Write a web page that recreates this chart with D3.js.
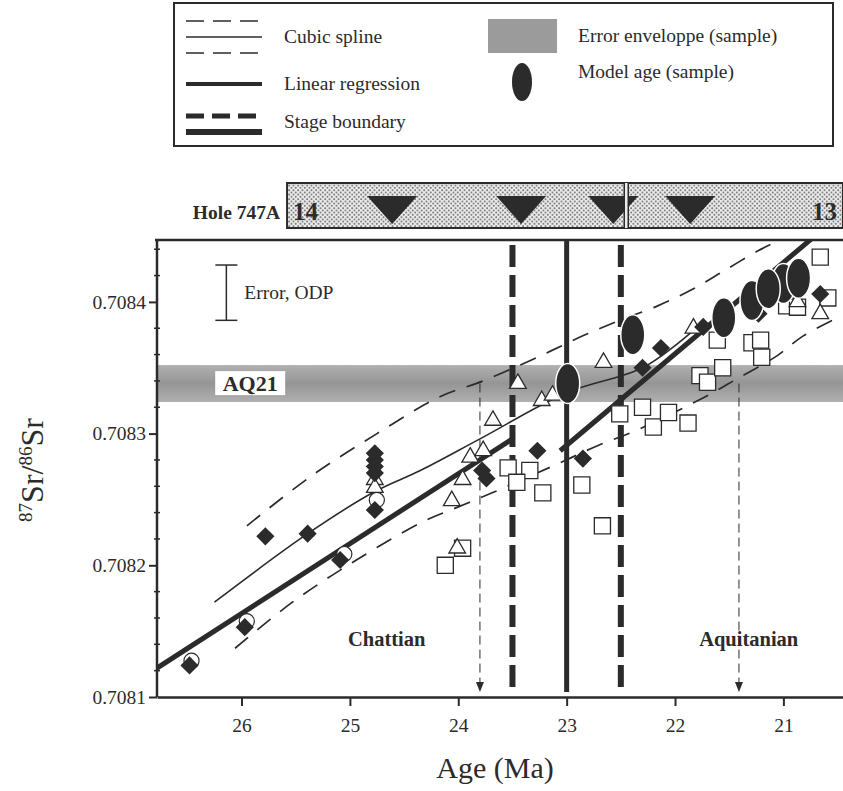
<!DOCTYPE html>
<html><head><meta charset="utf-8">
<script src="https://cdn.jsdelivr.net/npm/d3@7"></script>
<style>body{margin:0;background:#fff}text{font-family:"Liberation Serif","DejaVu Serif",serif;fill:#2b2b2b}</style>
</head><body>
<svg id="chart" width="843" height="791"></svg>
<script>
// Axis ticks
const xTicks = [26, 25, 24, 23, 22, 21];
const yTicks = [0.7081, 0.7082, 0.7083, 0.7084];

// Cubic spline through the data and its error envelope (age Ma, 87Sr/86Sr)
const splineAge = [26.25, 25.39, 24.77, 24.35, 23.80, 23.0, 22.30, 21.83, 21.72];
const splineSr  = [0.708172, 0.708224, 0.708256, 0.708272, 0.708296, 0.708331, 0.708350, 0.708378, 0.708385];
const upperAge  = [25.95, 25.37, 24.75, 24.17, 23.77, 23.43, 23.14, 22.83, 22.51, 22.16, 21.83, 21.54, 21.23, 21.03];
const upperSr   = [0.708230, 0.708267, 0.708300, 0.708328, 0.708340, 0.708352, 0.708363, 0.708375, 0.708386, 0.708397, 0.708410, 0.708424, 0.708439, 0.708447];
const lowerAge  = [26.06, 25.53, 24.94, 24.33, 24.01, 23.66, 23.03, 22.71, 22.37, 21.72, 21.42, 21.06, 20.82, 20.50];
const lowerSr   = [0.708137, 0.708172, 0.708204, 0.708233, 0.708244, 0.708256, 0.708279, 0.708291, 0.708302, 0.708328, 0.708342, 0.708359, 0.708374, 0.708388];

// Linear regressions (Chattian and Aquitanian segments)
const reg1Age = [26.78, 23.5];
const reg1Sr  = [0.708122, 0.708296];
const reg2Age = [23.06, 20.71];
const reg2Sr  = [0.708287, 0.708450];

// Stage boundary (solid) and its uncertainty (dashed)
const boundaryAge = 23.0;
const boundaryRangeAge = [23.5, 22.5];

// AQ21 sample: 87Sr/86Sr band and derived age range
const aq21Sr = [0.708324, 0.708352];
const arrowAge = [23.8, 21.41];

// Measurements
const diamondAge = [26.48, 25.97, 25.78, 25.39, 25.09, 24.77, 24.77, 24.77, 24.77, 24.77, 23.78, 23.74, 23.27, 22.85, 22.30, 22.13, 21.74, 21.23, 20.66];
const diamondSr  = [0.708124, 0.708153, 0.708222, 0.708224, 0.708204, 0.708285, 0.708280, 0.708275, 0.708270, 0.708242, 0.708272, 0.708266, 0.708287, 0.708281, 0.708350, 0.708365, 0.708381, 0.708391, 0.708406];
const triangleAge = [24.77, 24.77, 24.06, 23.96, 23.89, 23.77, 24.01, 23.68, 23.45, 23.23, 23.13, 22.66, 21.83, 20.87, 20.66];
const triangleSr  = [0.708265, 0.708259, 0.708249, 0.708265, 0.708282, 0.708287, 0.708213, 0.708310, 0.708338, 0.708325, 0.708329, 0.708354, 0.708380, 0.708400, 0.708391];
const squareAge = [24.12, 23.96, 23.54, 23.34, 23.46, 23.22, 22.86, 22.67, 22.51, 22.30, 22.20, 22.06, 21.88, 21.77, 21.70, 21.56, 21.61, 21.29, 21.21, 21.20, 20.97, 20.87, 20.59, 20.66];
const squareSr  = [0.708200, 0.708213, 0.708274, 0.708272, 0.708263, 0.708255, 0.708261, 0.708230, 0.708315, 0.708320, 0.708305, 0.708316, 0.708308, 0.708344, 0.708339, 0.708350, 0.708371, 0.708369, 0.708371, 0.708358, 0.708397, 0.708396, 0.708403, 0.708434];
const circleAge = [26.48, 25.97, 25.07, 24.77];
const circleSr  = [0.708126, 0.708156, 0.708207, 0.708248];

// Model ages of samples
const modelAge = [22.99, 22.39, 21.55, 21.29, 21.0, 21.14, 20.86];
const modelSr  = [0.708338, 0.708375, 0.708388, 0.708401, 0.708414, 0.708410, 0.708418];

// Analytical error of ODP data
const errAge = 26.14;
const errSr = [0.708386, 0.708428];

// Hole 747A core record
const holeRangeAge = [25.58, 20.45];
const holeDividerAge = 22.45;
const holeLabels = ["14", "13"];
const holeSampleAge = [24.61, 23.42, 22.57, 21.86];

const ink = "#2b2b2b";
const svg = d3.select("#chart");
const defs = svg.append("defs");

const m = {left: 157, right: 843, top: 240, bottom: 697};
const x = d3.scaleLinear().domain([26.78, 20.45]).range([m.left, m.right]);
const y = d3.scaleLinear().domain([0.7081, 0.708447]).range([m.bottom, m.top]);

// grainy grey used for the error envelope
const grain = defs.append("filter").attr("id", "grain").attr("x", 0).attr("y", 0).attr("width", 1).attr("height", 1);
grain.append("feTurbulence").attr("type", "fractalNoise").attr("baseFrequency", 0.9).attr("numOctaves", 2).attr("seed", 3).attr("result", "n");
grain.append("feColorMatrix").attr("in", "n").attr("type", "matrix")
  .attr("values", "0 0 0 0 0  0 0 0 0 0  0 0 0 0 0  0 0 0 -0.9 0.55").attr("result", "a");
grain.append("feComposite").attr("in", "SourceGraphic").attr("in2", "a").attr("operator", "over");

const bandGrad = defs.append("linearGradient").attr("id", "bandGrad").attr("x1", 0).attr("y1", 0).attr("x2", 0).attr("y2", 1);
bandGrad.append("stop").attr("offset", "0%").attr("stop-color", "#b0b0b0");
bandGrad.append("stop").attr("offset", "50%").attr("stop-color", "#959595");
bandGrad.append("stop").attr("offset", "100%").attr("stop-color", "#b0b0b0");

// stipple for the core bar
const stip = defs.append("pattern").attr("id", "stipple").attr("patternUnits", "userSpaceOnUse").attr("width", 4.5).attr("height", 4.5);
stip.append("rect").attr("width", 4.5).attr("height", 4.5).attr("fill", "#ececec");
stip.append("circle").attr("cx", 1.1).attr("cy", 1.1).attr("r", 0.85).attr("fill", "#555");
stip.append("circle").attr("cx", 3.35).attr("cy", 3.35).attr("r", 0.85).attr("fill", "#555");

defs.append("clipPath").attr("id", "plotClip").append("rect")
  .attr("x", m.left).attr("y", m.top).attr("width", m.right - m.left).attr("height", m.bottom - m.top);

// ---------- Legend ----------
const lg = svg.append("g");
lg.append("rect").attr("x", 174).attr("y", 3).attr("width", 659).attr("height", 143)
  .attr("fill", "none").attr("stroke", ink).attr("stroke-width", 2);
const lgLine = (y0, w, dash) => lg.append("line").attr("x1", 186).attr("x2", 262).attr("y1", y0).attr("y2", y0)
  .attr("stroke", ink).attr("stroke-width", w).attr("stroke-dasharray", dash || null);
lgLine(21, 1.5, "18,9");
lgLine(37, 1.5);
lgLine(53, 1.5, "18,9");
lgLine(84, 4);
lgLine(116, 5, "18,8");
lgLine(132, 6);
const lgText = (tx, ty, s) => lg.append("text").attr("x", tx).attr("y", ty).attr("font-size", 19.5).text(s);
lgText(284, 43, "Cubic spline");
lgText(284, 90, "Linear regression");
lgText(284, 128, "Stage boundary");
lg.append("rect").attr("x", 488).attr("y", 19).attr("width", 69).attr("height", 34).attr("fill", "#9b9b9b").attr("filter", "url(#grain)");
lgText(578, 42, "Error enveloppe (sample)");
lg.append("ellipse").attr("cx", 522).attr("cy", 82).attr("rx", 10).attr("ry", 19).attr("fill", ink);
lgText(578, 78, "Model age (sample)");

// ---------- Hole 747A bar ----------
const hb = svg.append("g");
const hy0 = 183, hy1 = 228;
hb.append("text").attr("x", 280).attr("y", 219).attr("text-anchor", "end").attr("font-size", 19.5).attr("font-weight", "bold").text("Hole 747A");
hb.append("rect").attr("x", x(holeRangeAge[0])).attr("y", hy0).attr("width", x(holeRangeAge[1]) - x(holeRangeAge[0])).attr("height", hy1 - hy0)
  .attr("fill", "url(#stipple)").attr("stroke", ink).attr("stroke-width", 2);
hb.selectAll("path.tri").data(holeSampleAge).join("path").attr("class", "tri")
  .attr("d", d => `M${x(d) - 25},${hy0 + 13}L${x(d) + 25},${hy0 + 13}L${x(d)},${hy1 - 4}Z`).attr("fill", ink);
const xd = x(holeDividerAge);
hb.append("rect").attr("x", xd - 2).attr("y", hy0).attr("width", 4).attr("height", hy1 - hy0).attr("fill", "#ececec");
hb.append("line").attr("x1", xd - 2).attr("x2", xd - 2).attr("y1", hy0).attr("y2", hy1).attr("stroke", ink).attr("stroke-width", 1.5);
hb.append("line").attr("x1", xd + 2).attr("x2", xd + 2).attr("y1", hy0).attr("y2", hy1).attr("stroke", ink).attr("stroke-width", 1.5);
hb.append("text").attr("x", x(holeRangeAge[0]) + 6).attr("y", 220).attr("font-size", 25).attr("font-weight", "bold").text(holeLabels[0]);
hb.append("text").attr("x", x(holeRangeAge[1]) - 6).attr("y", 220).attr("text-anchor", "end").attr("font-size", 25).attr("font-weight", "bold").text(holeLabels[1]);

// ---------- Plot ----------
const p = svg.append("g").attr("clip-path", "url(#plotClip)");

// AQ21 band
p.append("rect").attr("x", m.left).attr("y", y(aq21Sr[1])).attr("width", m.right - m.left).attr("height", y(aq21Sr[0]) - y(aq21Sr[1]))
  .attr("fill", "url(#bandGrad)").attr("filter", "url(#grain)");
const aqX = x(25.92);
p.append("rect").attr("x", aqX - 35).attr("y", y(aq21Sr[1]) + 6).attr("width", 70).attr("height", 24).attr("fill", "#fff");
p.append("text").attr("x", aqX).attr("y", y(aq21Sr[1]) + 26).attr("text-anchor", "middle").attr("font-size", 22).attr("font-weight", "bold").text("AQ21");

// Error bar
const ex = x(errAge);
p.append("line").attr("x1", ex).attr("x2", ex).attr("y1", y(errSr[0])).attr("y2", y(errSr[1])).attr("stroke", ink).attr("stroke-width", 1.5);
errSr.forEach(v => p.append("line").attr("x1", ex - 11).attr("x2", ex + 11).attr("y1", y(v)).attr("y2", y(v)).attr("stroke", ink).attr("stroke-width", 1.5));
p.append("text").attr("x", ex + 18).attr("y", y((errSr[0] + errSr[1]) / 2) + 6).attr("font-size", 19.5).text("Error, ODP");

// Stage names
p.append("text").attr("x", x(24.66)).attr("y", 646).attr("text-anchor", "middle").attr("font-size", 20.5).attr("font-weight", "bold").text("Chattian");
p.append("text").attr("x", x(21.32)).attr("y", 646).attr("text-anchor", "middle").attr("font-size", 20.5).attr("font-weight", "bold").text("Aquitanian");

// Age-range arrows
arrowAge.forEach(a => {
  const ax = x(a);
  p.append("line").attr("x1", ax).attr("x2", ax).attr("y1", y((aq21Sr[0] + aq21Sr[1]) / 2)).attr("y2", 684)
    .attr("stroke", ink).attr("stroke-width", 1).attr("stroke-dasharray", "9,5");
  p.append("path").attr("d", `M${ax - 4},${682}L${ax + 4},${682}L${ax},${692}Z`).attr("fill", ink);
});

// Stage boundaries
boundaryRangeAge.forEach(a => p.append("line").attr("x1", x(a)).attr("x2", x(a)).attr("y1", 245).attr("y2", 690)
  .attr("stroke", ink).attr("stroke-width", 6).attr("stroke-dasharray", "22,8"));
p.append("line").attr("x1", x(boundaryAge)).attr("x2", x(boundaryAge)).attr("y1", m.top).attr("y2", 692)
  .attr("stroke", ink).attr("stroke-width", 5);

// Spline and envelope
const line = d3.line().x(d => x(d[0])).y(d => y(d[1])).curve(d3.curveCatmullRom.alpha(0.5));
const zip = (a, b) => a.map((v, i) => [v, b[i]]);
p.append("path").attr("d", line(zip(upperAge, upperSr))).attr("fill", "none").attr("stroke", ink).attr("stroke-width", 1.7).attr("stroke-dasharray", "17,12");
p.append("path").attr("d", line(zip(lowerAge, lowerSr))).attr("fill", "none").attr("stroke", ink).attr("stroke-width", 1.7).attr("stroke-dasharray", "17,12");
p.append("path").attr("d", line(zip(splineAge, splineSr))).attr("fill", "none").attr("stroke", ink).attr("stroke-width", 1.6);

// Regressions
const lin = d3.line().x(d => x(d[0])).y(d => y(d[1]));
p.append("path").attr("d", lin(zip(reg1Age, reg1Sr))).attr("stroke", ink).attr("stroke-width", 5).attr("fill", "none");
p.append("path").attr("d", lin(zip(reg2Age, reg2Sr))).attr("stroke", ink).attr("stroke-width", 5).attr("fill", "none");

// Symbols
const sym = (type, size) => d3.symbol().type(type).size(size)();
p.selectAll("path.circ").data(zip(circleAge, circleSr)).join("path").attr("class", "circ")
  .attr("transform", d => `translate(${x(d[0]) + 2},${y(d[1]) - 2})`).attr("d", sym(d3.symbolCircle, 180))
  .attr("fill", "#fff").attr("stroke", ink).attr("stroke-width", 1.2);
p.selectAll("path.sq").data(zip(squareAge, squareSr)).join("path").attr("class", "sq")
  .attr("transform", d => `translate(${x(d[0])},${y(d[1])})`).attr("d", sym(d3.symbolSquare, 260))
  .attr("fill", "#fff").attr("stroke", ink).attr("stroke-width", 1.3);
p.selectAll("path.tr").data(zip(triangleAge, triangleSr)).join("path").attr("class", "tr")
  .attr("transform", d => `translate(${x(d[0])},${y(d[1])})`).attr("d", sym(d3.symbolTriangle, 120))
  .attr("fill", "#fff").attr("stroke", ink).attr("stroke-width", 1.3);
p.selectAll("path.dm").data(zip(diamondAge, diamondSr)).join("path").attr("class", "dm")
  .attr("transform", d => `translate(${x(d[0])},${y(d[1])}) rotate(45)`).attr("d", sym(d3.symbolSquare, 165))
  .attr("fill", ink);
p.selectAll("ellipse.model").data(zip(modelAge, modelSr)).join("ellipse").attr("class", "model")
  .attr("cx", d => x(d[0])).attr("cy", d => y(d[1])).attr("rx", 12).attr("ry", 20)
  .attr("fill", ink).attr("stroke", "#fff").attr("stroke-width", 1.5);

// ---------- Axes ----------
svg.append("line").attr("x1", m.left - 2).attr("x2", m.right).attr("y1", m.top).attr("y2", m.top).attr("stroke", ink).attr("stroke-width", 2.5);
const xAxis = svg.append("g").attr("transform", `translate(0,${m.bottom})`)
  .call(d3.axisBottom(x).tickValues(xTicks).tickFormat(d3.format("d")).tickSize(9).tickSizeOuter(0).tickPadding(12));
xAxis.select(".domain").attr("stroke", ink).attr("stroke-width", 2.5);
xAxis.selectAll(".tick line").attr("stroke", ink).attr("stroke-width", 2);
xAxis.selectAll("text").attr("font-size", 19.5).attr("font-family", "Liberation Serif").attr("fill", ink);

const minor = d3.range(0, 18).map(i => 0.7081 + i * 0.00002).filter(v => v <= 0.708447 && !yTicks.some(t => Math.abs(t - v) < 1e-9));
svg.append("g").selectAll("line").data(minor).join("line")
  .attr("x1", m.left - 3).attr("x2", m.left + 3).attr("y1", d => y(d)).attr("y2", d => y(d)).attr("stroke", ink).attr("stroke-width", 1.5);
const yAxis = svg.append("g").attr("transform", `translate(${m.left},0)`)
  .call(d3.axisLeft(y).tickValues(yTicks).tickFormat(d3.format(".4f")).tickSize(8).tickSizeOuter(0).tickPadding(3));
yAxis.select(".domain").attr("stroke", ink).attr("stroke-width", 2.5).attr("d", `M0,${m.top}V${m.bottom}`);
yAxis.selectAll(".tick line").attr("stroke", ink).attr("stroke-width", 2);
yAxis.selectAll("text").attr("font-size", 19.5).attr("font-family", "Liberation Serif").attr("fill", ink);

// Axis titles
svg.append("text").attr("x", 495).attr("y", 778).attr("text-anchor", "middle").attr("font-size", 30).text("Age (Ma)");
const yl = svg.append("text").attr("transform", "translate(43,470) rotate(-90)").attr("text-anchor", "middle").attr("font-size", 32);
yl.append("tspan").attr("font-size", 19).attr("dy", -11).text("87");
yl.append("tspan").attr("dy", 11).text("Sr/");
yl.append("tspan").attr("font-size", 19).attr("dy", -11).text("86");
yl.append("tspan").attr("dy", 11).text("Sr");
</script>
</body></html>
